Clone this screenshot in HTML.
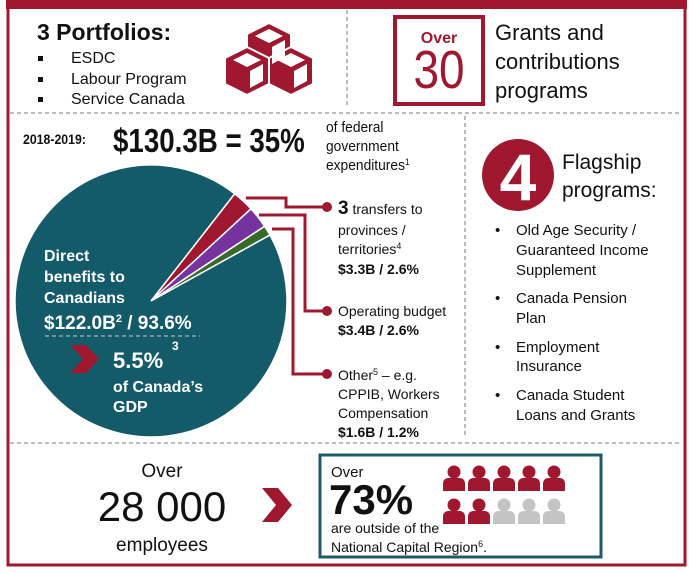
<!DOCTYPE html>
<html><head><meta charset="utf-8"><style>
html,body{margin:0;padding:0;background:#fff}
svg{display:block;font-family:"Liberation Sans",Arial,sans-serif}
</style></head><body>
<svg id="chart" width="689" height="574" viewBox="0 0 689 574" xmlns="http://www.w3.org/2000/svg">
<!-- frame -->
<rect x="8" y="3" width="677" height="562" fill="none" stroke="#a0182f" stroke-width="3"/>
<rect x="6" y="0" width="681" height="9" fill="#a0182f"/>
<g stroke="#777" stroke-width="1" stroke-dasharray="4,3" fill="none">
<line x1="347" y1="10" x2="347" y2="108"/>
<line x1="10" y1="113" x2="682" y2="113"/>
<line x1="465" y1="116" x2="465" y2="438"/>
<line x1="10" y1="443" x2="682" y2="443"/>
</g>

<!-- portfolios -->
<text x="37" y="40" font-size="23" font-weight="bold" fill="#111">3 Portfolios:</text>
<g font-size="16" fill="#111">
<rect x="38" y="56" width="5" height="5" fill="#111"/><text x="71" y="63">ESDC</text>
<rect x="38" y="77" width="5" height="5" fill="#111"/><text x="71" y="84">Labour Program</text>
<rect x="38" y="97" width="5" height="5" fill="#111"/><text x="71" y="104">Service Canada</text>
</g>
<g fill="#a0182f" stroke="#fff" stroke-width="2" stroke-linejoin="round">
<path d="M247 34 L269 23 L291 34 L291 60 L269 71 L247 60Z"/>
<path d="M225 58 L247 47 L269 58 L269 84 L247 95 L225 84Z"/>
<path d="M269 58 L291 47 L313 58 L313 84 L291 95 L269 84Z"/>
</g>
<g fill="#fff">
<path d="M255 36 L269 29 L283 36 L269 43Z"/><path d="M272 47 L285 40 L285 57 L272 64Z"/>
<path d="M233 60 L247 53 L261 60 L247 67Z"/><path d="M250 71 L263 64 L263 81 L250 88Z"/>
<path d="M277 60 L291 53 L305 60 L291 67Z"/><path d="M294 71 L307 64 L307 81 L294 88Z"/>
</g>

<!-- over 30 -->
<rect x="395" y="17" width="88" height="87" fill="none" stroke="#a0182f" stroke-width="4"/>
<text x="439" y="43" font-size="16" font-weight="bold" fill="#a0182f" text-anchor="middle">Over</text>
<text x="439" y="88" font-size="54" fill="#a0182f" text-anchor="middle" transform="translate(439 0) scale(0.85 1) translate(-439 0)">30</text>
<g font-size="22" fill="#111">
<text x="495" y="40">Grants and</text>
<text x="495" y="69">contributions</text>
<text x="495" y="98">programs</text>
</g>

<!-- spending header -->
<text x="23" y="144" font-size="14" font-weight="bold" fill="#111" transform="translate(23 0) scale(0.88 1) translate(-23 0)">2018-2019:</text>
<text x="113" y="152" font-size="33" font-weight="bold" fill="#111" transform="translate(113 0) scale(0.84 1) translate(-113 0)">$130.3B = 35%</text>
<g font-size="15" fill="#111" transform="translate(326 0) scale(0.92 1) translate(-326 0)">
<text x="326" y="132">of federal</text>
<text x="326" y="151">government</text>
<text x="326" y="170">expenditures<tspan font-size="9" dy="-5">1</tspan></text>
</g>

<g id="pie"></g>

<!-- pie texts -->
<g font-weight="bold" fill="#fff">
<text x="44" y="261" font-size="16">Direct</text>
<text x="44" y="282" font-size="16">benefits to</text>
<text x="44" y="303" font-size="16">Canadians</text>
<text x="44" y="329" font-size="19">$122.0B<tspan font-size="11" dy="-7">2</tspan><tspan dy="7"> / 93.6%</tspan></text>
<line x1="45" y1="336" x2="200" y2="336" stroke="#ccc" stroke-dasharray="4,3" stroke-width="1"/>
<text x="113" y="368" font-size="22">5.5%</text>
<text x="172" y="350" font-size="12">3</text>
<text x="113" y="392" font-size="16">of Canada’s</text>
<text x="113" y="412" font-size="16">GDP</text>
</g>
<path d="M70 345 L86 345 L99 359 L86 373 L70 373 L83 359Z" fill="#a0182f"/>

<!-- leader lines -->
<g stroke="#a0182f" stroke-width="3" fill="none">
<polyline points="246,198 286,198 286,207 325,207"/>
<polyline points="259,215 305,215 305,311 325,311"/>
<polyline points="272,229 293,229 293,374 325,374"/>
</g>
<g fill="#a0182f"><circle cx="327" cy="207" r="5"/><circle cx="327" cy="311" r="5"/><circle cx="327" cy="374" r="5"/></g>
<g font-size="14" fill="#111">
<text x="338" y="214"><tspan font-size="19" font-weight="bold">3</tspan> transfers to</text>
<text x="338" y="235">provinces /</text>
<text x="338" y="254">territories<tspan font-size="9" dy="-5">4</tspan></text>
<text x="338" y="274" font-weight="bold">$3.3B / 2.6%</text>
<text x="338" y="316">Operating budget</text>
<text x="338" y="335" font-weight="bold">$3.4B / 2.6%</text>
<text x="338" y="380">Other<tspan font-size="9" dy="-5">5</tspan><tspan dy="5"> – e.g.</tspan></text>
<text x="338" y="399">CPPIB, Workers</text>
<text x="338" y="418">Compensation</text>
<text x="338" y="437" font-weight="bold">$1.6B / 1.2%</text>
</g>

<!-- flagship -->
<circle cx="518" cy="175" r="36" fill="#a0182f"/>
<text x="518" y="200" font-size="66" font-weight="bold" fill="#fff" text-anchor="middle">4</text>
<text x="562" y="169" font-size="21" fill="#111">Flagship</text>
<text x="562" y="197" font-size="21" fill="#111">programs:</text>
<g font-size="15" fill="#111">
<text x="495" y="235">•</text><text x="516" y="235">Old Age Security /</text>
<text x="516" y="255">Guaranteed Income</text><text x="516" y="275">Supplement</text>
<text x="495" y="303">•</text><text x="516" y="303">Canada Pension</text><text x="516" y="323">Plan</text>
<text x="495" y="352">•</text><text x="516" y="352">Employment</text><text x="516" y="371">Insurance</text>
<text x="495" y="400">•</text><text x="516" y="400">Canada Student</text><text x="516" y="420">Loans and Grants</text>
</g>

<!-- employees -->
<g fill="#111" text-anchor="middle">
<text x="162" y="477" font-size="19">Over</text>
<text x="162" y="521" font-size="42">28 000</text>
<text x="162" y="551" font-size="19">employees</text>
</g>
<path d="M262 488 L278 488 L292 505 L278 522 L262 522 L276 505Z" fill="#a0182f"/>
<rect x="320" y="455" width="281" height="102" fill="none" stroke="#1d5b68" stroke-width="3"/>
<text x="331" y="477" font-size="15" fill="#111">Over</text>
<text x="329" y="514" font-size="42" font-weight="bold" fill="#111">73%</text>
<text x="331" y="533" font-size="14" fill="#111">are outside of the</text>
<text x="331" y="552" font-size="14" fill="#111">National Capital Region<tspan font-size="9" dy="-5">6</tspan><tspan dy="5">.</tspan></text>
<defs>
<symbol id="person" viewBox="0 0 22 26" overflow="visible">
<circle cx="11" cy="7" r="6.5"/><path d="M0 26 L0 19 Q0 13 6 13 L16 13 Q22 13 22 19 L22 26Z"/>
</symbol>
</defs>
<g id="people"></g>

<script>
// pie data
const sliceLabels = ["Direct benefits", "Transfers", "Operating budget", "Other"];
const sliceValues = [93.6, 2.6, 2.6, 1.2];
const sliceColors = ["#135b69", "#a0182f", "#7633a0", "#376a28"];
const peopleTotal = 10;
const peopleFilledPct = [73];

const NS = "http://www.w3.org/2000/svg";
const cx = 151, cy = 301, r = 136;
const total = sliceValues.reduce((a, b) => a + b, 0);
const pie = document.getElementById("pie");
let cur = -29 * Math.PI / 180 - 2 * Math.PI * (total - sliceValues[0]) / total;
const order = [1, 2, 3, 0];
order.forEach(i => {
  const sweep = 2 * Math.PI * sliceValues[i] / total;
  const a1 = cur + sweep;
  const x0 = cx + r * Math.cos(cur), y0 = cy + r * Math.sin(cur);
  const x1 = cx + r * Math.cos(a1), y1 = cy + r * Math.sin(a1);
  const p = document.createElementNS(NS, "path");
  p.setAttribute("d", `M${cx},${cy} L${x0},${y0} A${r},${r} 0 ${sweep > Math.PI ? 1 : 0} 1 ${x1},${y1} Z`);
  p.setAttribute("fill", sliceColors[i]);
  p.setAttribute("stroke", "#fff");
  p.setAttribute("stroke-width", "1.5");
  
  
  pie.appendChild(p);
  cur = a1;
});

// people icons
const people = document.getElementById("people");
const filled = peopleTotal * peopleFilledPct[0] / 100;
for (let k = 0; k < peopleTotal; k++) {
  const col = k % 5, row = Math.floor(k / 5);
  const x = 443 + col * 25, y = 465 + row * 33;
  const g = document.createElementNS(NS, "use");
  g.setAttribute("href", "#person");
  g.setAttribute("x", x); g.setAttribute("y", y);
  g.setAttribute("width", 22); g.setAttribute("height", 26);
  const frac = filled - k;
  g.setAttribute("fill", frac >= 1 ? "#a0182f" : "#c4c4c4");
  
  
  people.appendChild(g);
  if (frac > 0 && frac < 1) {
    const cp = document.createElementNS(NS, "clipPath");
    cp.setAttribute("id", "pc" + k);
    const rc = document.createElementNS(NS, "rect");
    rc.setAttribute("x", x); rc.setAttribute("y", y);
    rc.setAttribute("width", 22 * frac); rc.setAttribute("height", 26);
    cp.appendChild(rc); people.appendChild(cp);
    const h = document.createElementNS(NS, "use");
    h.setAttribute("href", "#person");
    h.setAttribute("x", x); h.setAttribute("y", y);
    h.setAttribute("width", 22); h.setAttribute("height", 26);
    h.setAttribute("fill", "#a0182f");
    h.setAttribute("clip-path", "url(#pc" + k + ")");
    
    
    people.appendChild(h);
  }
}
</script>
</svg>
</body></html>
